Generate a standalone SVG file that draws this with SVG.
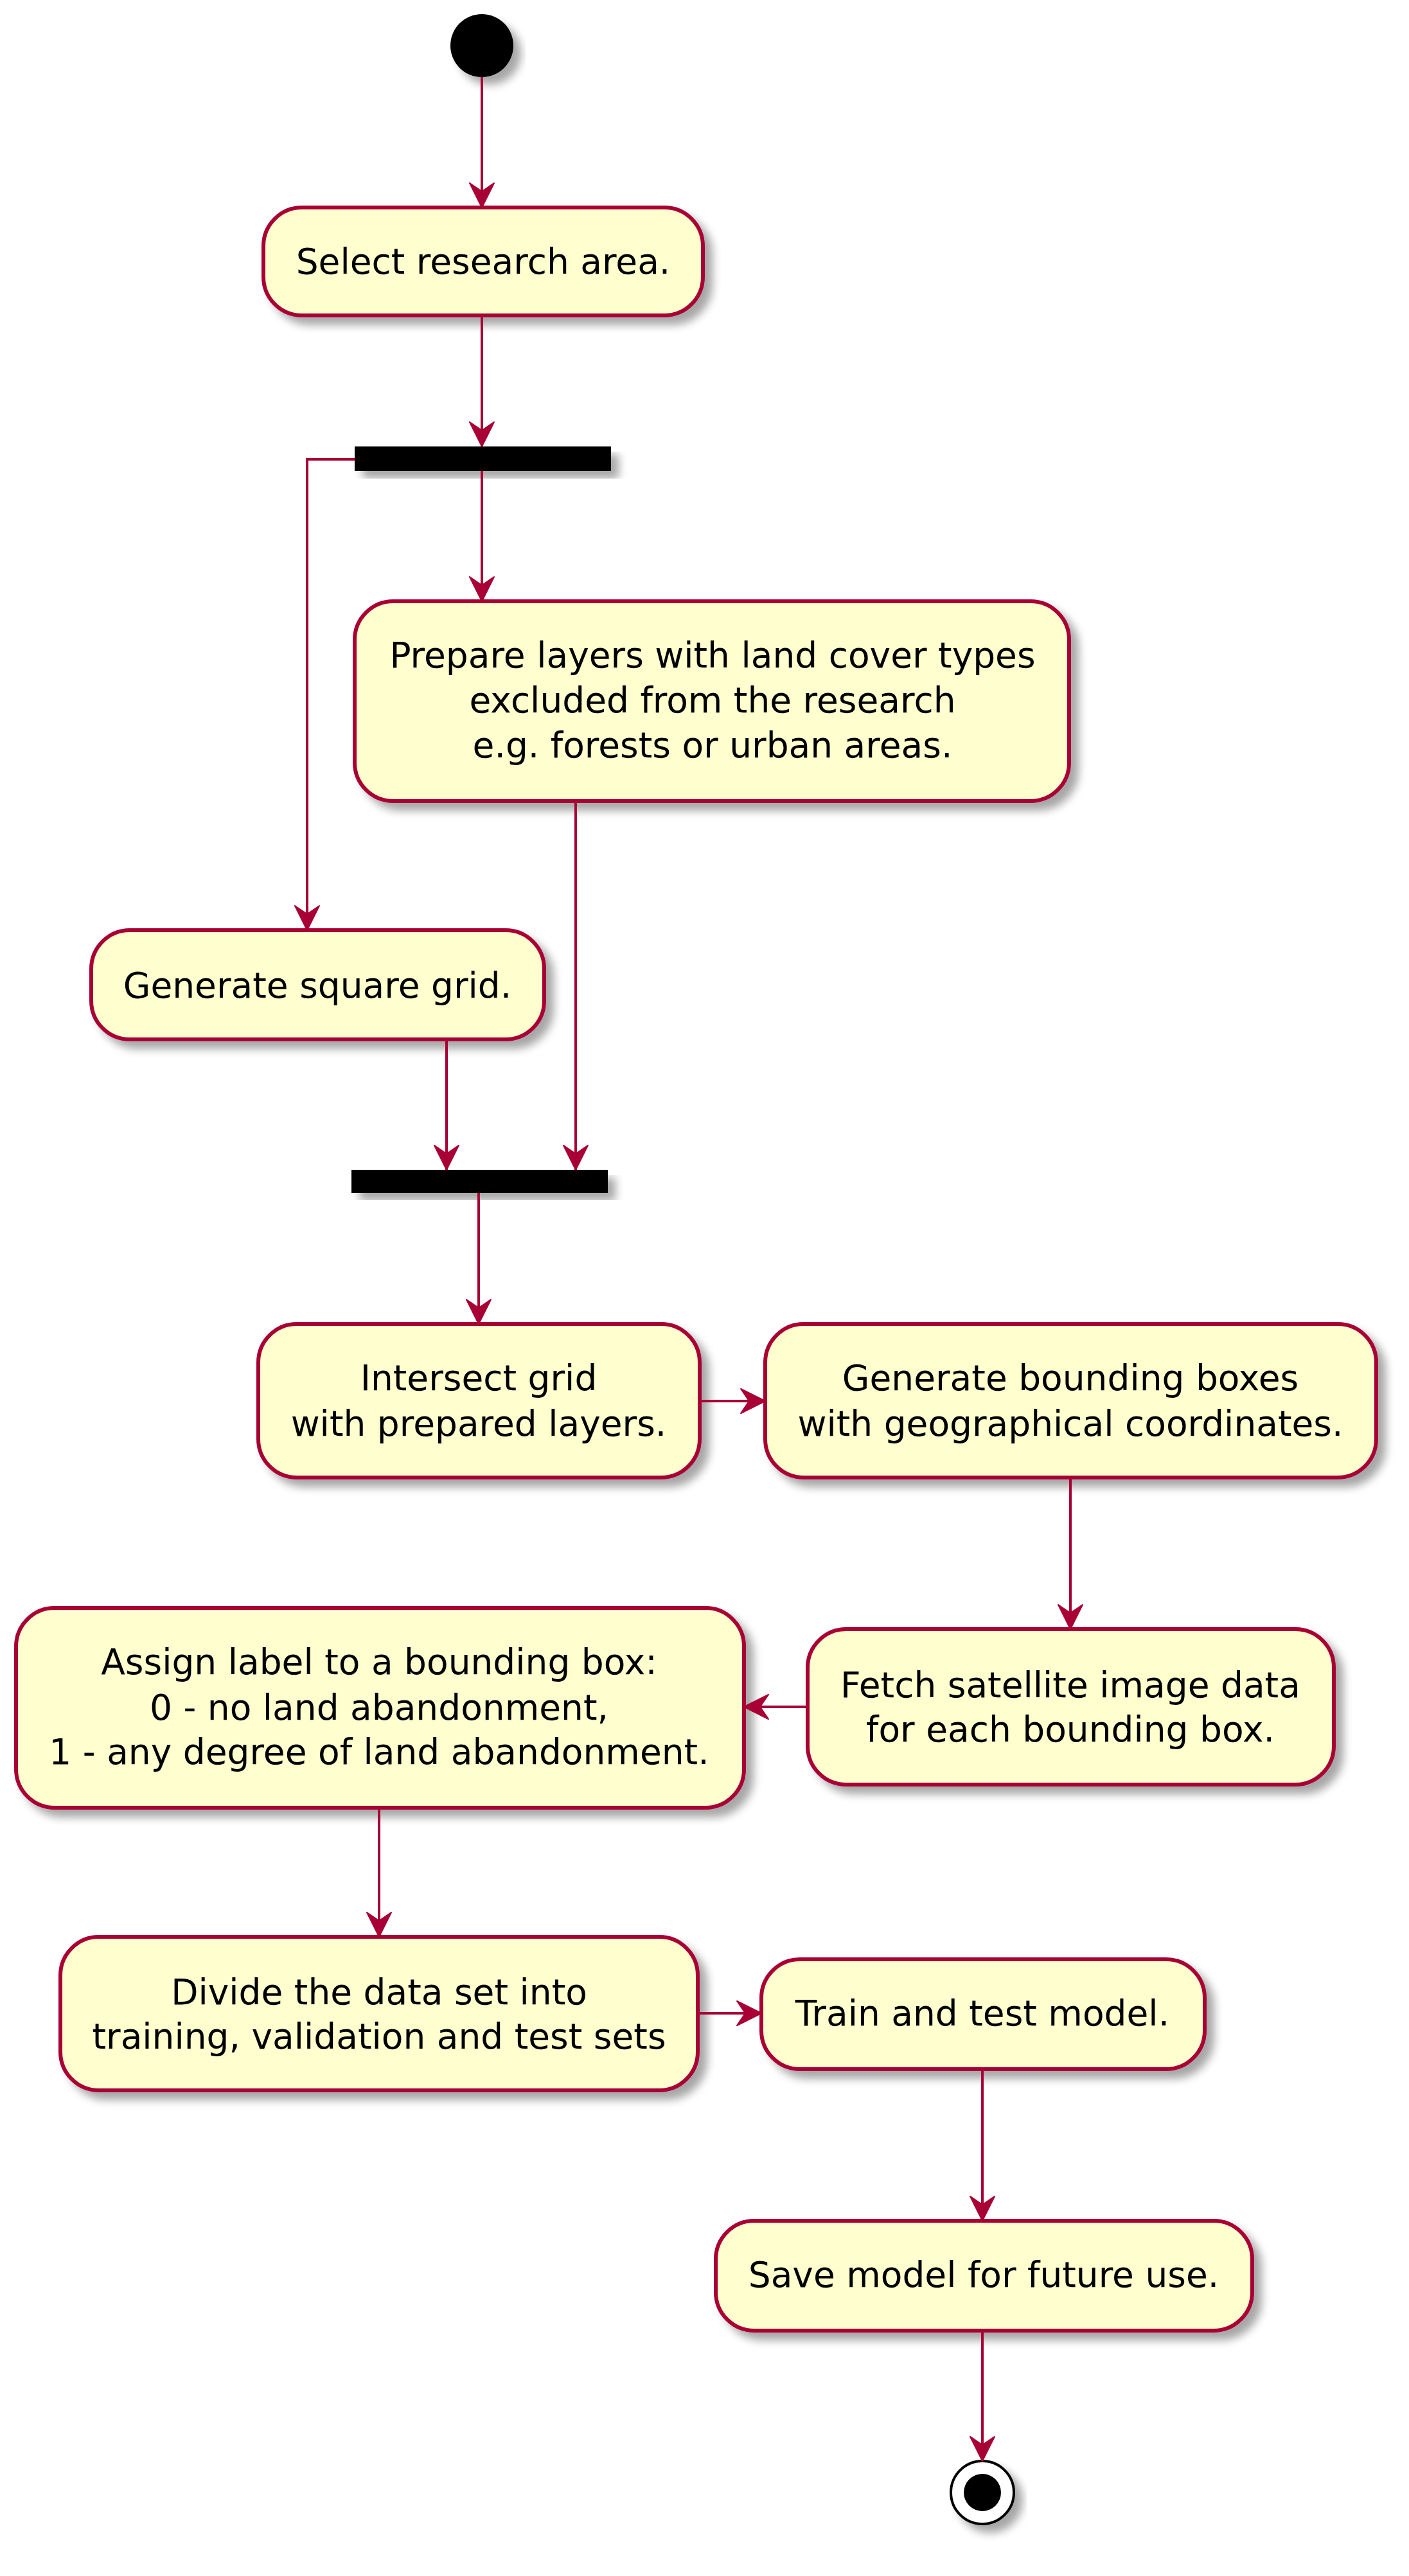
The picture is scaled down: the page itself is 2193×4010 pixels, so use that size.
<svg xmlns="http://www.w3.org/2000/svg" width="2193" height="4010" viewBox="0 0 2193 4010">
<style>
.box{fill:#FEFECE;stroke:#A80036;stroke-width:6}
.bar{fill:#000}
.t{font-family:"DejaVu Sans",sans-serif;font-size:55px;fill:#000;text-anchor:middle}
.c{fill:none;stroke:#A80036;stroke-width:4}
</style>
<defs>
<filter id="sh" x="-10%" y="-10%" width="130%" height="140%">
<feGaussianBlur in="SourceAlpha" stdDeviation="7"/>
<feOffset dx="12" dy="12"/>
<feComponentTransfer><feFuncA type="linear" slope="0.35"/></feComponentTransfer>
<feMerge><feMergeNode/><feMergeNode in="SourceGraphic"/></feMerge>
</filter>
<marker id="a" markerUnits="userSpaceOnUse" markerWidth="44" markerHeight="44" viewBox="0 0 44 44" refX="41" refY="22" orient="auto">
<path d="M3,3 L41,22 L3,41 L16,22 Z" fill="#A80036" stroke="#A80036" stroke-width="2" stroke-linejoin="round"/>
</marker>
</defs>
<g id="start"><circle cx="750" cy="71" r="49" fill="#000" filter="url(#sh)"/></g>
<g id="n1"><rect class="box" x="410" y="323" width="684" height="168" rx="60" filter="url(#sh)"/><text class="t" x="752" y="426">Select research area.</text></g>
<g id="fork"><rect class="bar" x="552" y="695" width="399" height="38" filter="url(#sh)"/></g>
<g id="n2"><rect class="box" x="552" y="936" width="1112" height="311" rx="60" filter="url(#sh)"/>
<text class="t" x="1109" y="1039">Prepare layers with land cover types</text>
<text class="t" x="1109" y="1109">excluded from the research</text>
<text class="t" x="1109" y="1179">e.g. forests or urban areas.</text></g>
<g id="n3"><rect class="box" x="142" y="1448" width="705" height="170" rx="60" filter="url(#sh)"/><text class="t" x="494" y="1553">Generate square grid.</text></g>
<g id="join"><rect class="bar" x="547" y="1821" width="399" height="36" filter="url(#sh)"/></g>
<g id="n4"><rect class="box" x="402" y="2061" width="687" height="239" rx="60" filter="url(#sh)"/>
<text class="t" x="745" y="2164">Intersect grid</text><text class="t" x="745" y="2235">with prepared layers.</text></g>
<g id="n5"><rect class="box" x="1191" y="2061" width="951" height="239" rx="60" filter="url(#sh)"/>
<text class="t" x="1666" y="2164">Generate bounding boxes</text><text class="t" x="1666" y="2235">with geographical coordinates.</text></g>
<g id="n6"><rect class="box" x="1257" y="2536" width="819" height="242" rx="60" filter="url(#sh)"/>
<text class="t" x="1666" y="2642">Fetch satellite image data</text><text class="t" x="1666" y="2711">for each bounding box.</text></g>
<g id="n7"><rect class="box" x="25" y="2503" width="1133" height="311" rx="60" filter="url(#sh)"/>
<text class="t" x="590" y="2606">Assign label to a bounding box:</text>
<text class="t" x="590" y="2677">0 - no land abandonment,</text>
<text class="t" x="590" y="2746">1 - any degree of land abandonment.</text></g>
<g id="n8"><rect class="box" x="94" y="3015" width="992" height="239" rx="60" filter="url(#sh)"/>
<text class="t" x="590" y="3120">Divide the data set into</text><text class="t" x="590" y="3189">training, validation and test sets</text></g>
<g id="n9"><rect class="box" x="1185" y="3050" width="690" height="171" rx="60" filter="url(#sh)"/><text class="t" x="1529" y="3153">Train and test model.</text></g>
<g id="n10"><rect class="box" x="1114" y="3457" width="835" height="171" rx="60" filter="url(#sh)"/><text class="t" x="1531" y="3560">Save model for future use.</text></g>
<g id="end"><circle cx="1529" cy="3880" r="49" fill="#fff" stroke="#000" stroke-width="4" filter="url(#sh)"/><circle cx="1529" cy="3880" r="29" fill="#000"/></g>
<g id="connectors">
<path class="c" marker-end="url(#a)" d="M750,120 V323"/>
<path class="c" marker-end="url(#a)" d="M750,491 V695"/>
<path class="c" marker-end="url(#a)" d="M750,733 V936"/>
<path class="c" marker-end="url(#a)" d="M552,715 H478 V1448"/>
<path class="c" marker-end="url(#a)" d="M695,1618 V1821"/>
<path class="c" marker-end="url(#a)" d="M896,1247 V1821"/>
<path class="c" marker-end="url(#a)" d="M745,1857 V2061"/>
<path class="c" marker-end="url(#a)" d="M1089,2181 H1191"/>
<path class="c" marker-end="url(#a)" d="M1666,2300 V2536"/>
<path class="c" marker-end="url(#a)" d="M1257,2657 H1158"/>
<path class="c" marker-end="url(#a)" d="M590,2814 V3015"/>
<path class="c" marker-end="url(#a)" d="M1086,3134 H1185"/>
<path class="c" marker-end="url(#a)" d="M1529,3221 V3457"/>
<path class="c" marker-end="url(#a)" d="M1529,3628 V3831"/>
</g>
</svg>
